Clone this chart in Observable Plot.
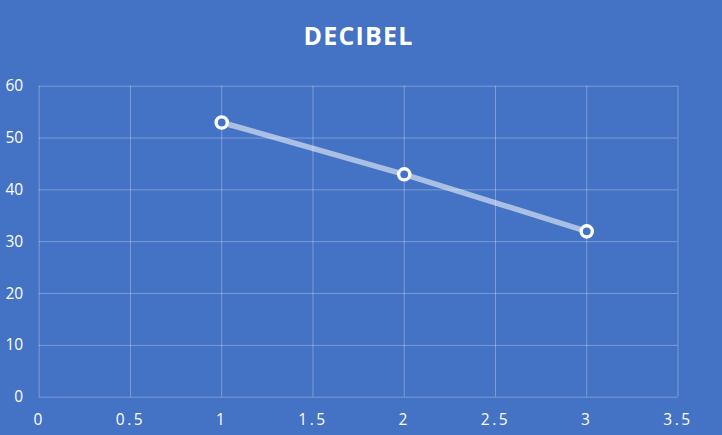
<!DOCTYPE html>
<html>
<head>
<meta charset="utf-8">
<script src="https://cdn.jsdelivr.net/npm/d3@7"></script>
<script src="https://cdn.jsdelivr.net/npm/@observablehq/plot@0.6"></script>
<style>
  html, body { margin: 0; padding: 0; background: #4472C4; }
  #chart { width: 722px; height: 435px; }
  svg { display: block; }
  g[aria-label="x-axis tick label"] text { letter-spacing: 2.5px; }
  g[aria-label="text"] text { letter-spacing: 1.2px; }
</style>
</head>
<body>
<div id="chart"></div>
<script>
const title = "DECIBEL";
const xValues = [1, 2, 3];
const yValues = [53, 43, 32];
const xTicks = [0, 0.5, 1, 1.5, 2, 2.5, 3, 3.5];
const yTicks = [0, 10, 20, 30, 40, 50, 60];

const data = xValues.map((x, i) => ({x, y: yValues[i]}));
const bg = "#4472C4";

const chart = Plot.plot({
  width: 722,
  height: 435,
  marginLeft: 38.7,
  marginRight: 44.5,
  marginTop: 85.7,
  marginBottom: 38.3,
  style: {background: bg, color: "white", fontFamily: "'Open Sans', sans-serif", fontSize: "15px"},
  x: {domain: [0, 3.5], ticks: xTicks, tickFormat: d => String(d), label: null},
  y: {domain: [0, 60], ticks: yTicks, tickFormat: d => String(d), label: null},
  marks: [
    Plot.gridX(xTicks, {stroke: "white", strokeOpacity: 0.3, strokeWidth: 1}),
    Plot.gridY(yTicks, {stroke: "white", strokeOpacity: 0.3, strokeWidth: 1}),
    Plot.axisX(xTicks, {tickSize: 0, tickPadding: 17, fill: "white", fontSize: 15.5, tickFormat: d => String(d)}),
    Plot.axisY(yTicks, {tickSize: 0, tickPadding: 16, fill: "white", fontSize: 15.5, tickFormat: d => String(d)}),
    Plot.line(data, {x: "x", y: "y", stroke: "white", strokeOpacity: 0.55, strokeWidth: 5.5}),
    Plot.dot(data, {x: "x", y: "y", r: 5.6, fill: bg, stroke: "white", strokeWidth: 3.4}),
    Plot.text([title], {frameAnchor: "top", lineAnchor: "bottom", dy: -41, fill: "white", fontSize: 25, fontWeight: "bold"})
  ]
});
document.getElementById("chart").appendChild(chart);
</script>
</body>
</html>
